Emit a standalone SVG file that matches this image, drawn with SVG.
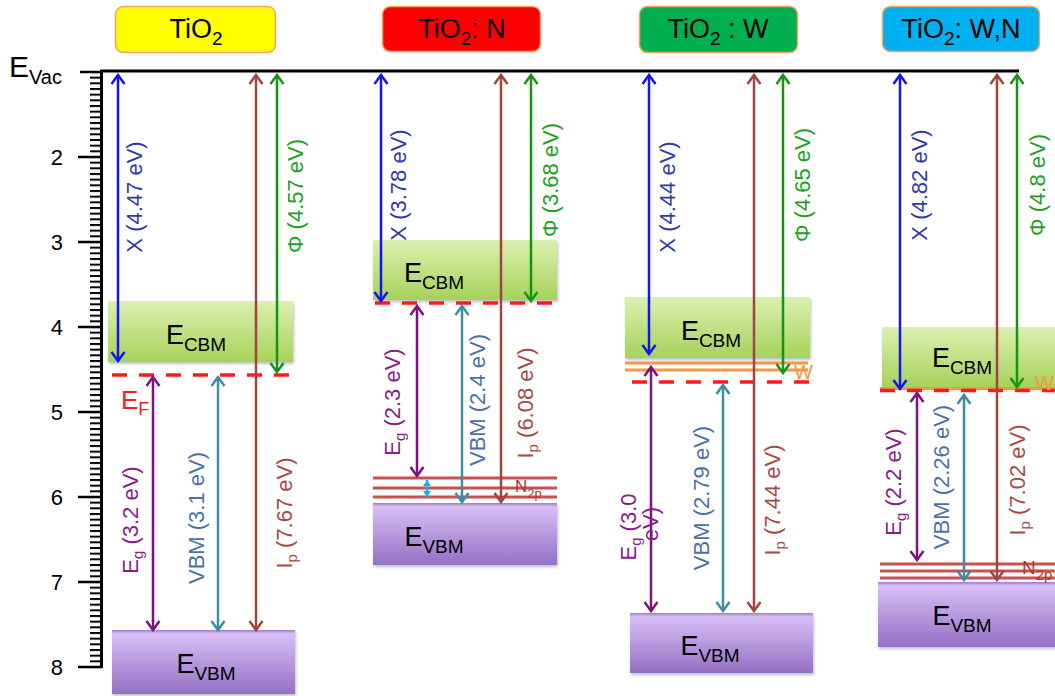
<svg xmlns="http://www.w3.org/2000/svg" width="1055" height="696" viewBox="0 0 1055 696">
<style>
text{font-family:"Liberation Sans",Arial,sans-serif}
.hd{font-size:27px;fill:#000;text-anchor:middle}
.hbox{stroke:#f2a45c;stroke-width:1.5}
.bx{font-size:27px;fill:#000;text-anchor:middle}
.lb{font-size:22px;text-anchor:middle}
.ax{font-size:22px;fill:#000;text-anchor:end}
.ef{stroke:#ff1a1a;stroke-width:3.5;stroke-dasharray:15 12;fill:none}
.wl{stroke:#f79646;stroke-width:3;fill:none}
.nl{stroke:#c9504e;stroke-width:3;fill:none}
.ab{stroke:#1414f0;stroke-width:2.5;fill:none;marker-start:url(#mb);marker-end:url(#mb)}
.ag{stroke:#169416;stroke-width:2.5;fill:none;marker-start:url(#mg);marker-end:url(#mg)}
.ar{stroke:#a2443f;stroke-width:2.5;fill:none;marker-start:url(#mr);marker-end:url(#mr)}
.ap{stroke:#7f117f;stroke-width:2.5;fill:none;marker-start:url(#mp);marker-end:url(#mp)}
.at{stroke:#3b8ea5;stroke-width:2.5;fill:none;marker-start:url(#mt);marker-end:url(#mt)}
.ac{stroke:#1ab0f0;stroke-width:2.5;fill:none;marker-start:url(#mc);marker-end:url(#mc)}
.cX{fill:#2f3aa8}.cF{fill:#22a022}.cG{fill:#8b1a8b}.cV{fill:#4a72a8}.cI{fill:#a84a44}
</style>
<defs>
<linearGradient id="gc" x1="0" y1="0" x2="0" y2="1"><stop offset="0" stop-color="#dcf0b0"/><stop offset="1" stop-color="#a6d25a"/></linearGradient>
<linearGradient id="gv" x1="0" y1="0" x2="0" y2="1"><stop offset="0" stop-color="#9f7cc8"/><stop offset="0.06" stop-color="#d8bef6"/><stop offset="1" stop-color="#9470c4"/></linearGradient>
<filter id="sh" x="-5%" y="-10%" width="112%" height="130%"><feDropShadow dx="1" dy="2" stdDeviation="1.5" flood-color="#000" flood-opacity="0.25"/></filter>
<pattern id="tk" patternUnits="userSpaceOnUse" x="90" y="71" width="12" height="5.6667"><rect x="0" y="0" width="12" height="2" fill="#000"/></pattern>
<marker id="mb" viewBox="-12 -8 14 16" refX="0" refY="0" markerWidth="14" markerHeight="16" markerUnits="userSpaceOnUse" orient="auto-start-reverse"><path d="M-9,-6.5 L0,0 L-9,6.5" fill="none" stroke="#1414f0" stroke-width="2.5"/></marker>
<marker id="mg" viewBox="-12 -8 14 16" refX="0" refY="0" markerWidth="14" markerHeight="16" markerUnits="userSpaceOnUse" orient="auto-start-reverse"><path d="M-9,-6.5 L0,0 L-9,6.5" fill="none" stroke="#169416" stroke-width="2.5"/></marker>
<marker id="mr" viewBox="-12 -8 14 16" refX="0" refY="0" markerWidth="14" markerHeight="16" markerUnits="userSpaceOnUse" orient="auto-start-reverse"><path d="M-9,-6.5 L0,0 L-9,6.5" fill="none" stroke="#a2443f" stroke-width="2.5"/></marker>
<marker id="mp" viewBox="-12 -8 14 16" refX="0" refY="0" markerWidth="14" markerHeight="16" markerUnits="userSpaceOnUse" orient="auto-start-reverse"><path d="M-9,-6.5 L0,0 L-9,6.5" fill="none" stroke="#7f117f" stroke-width="2.5"/></marker>
<marker id="mt" viewBox="-12 -8 14 16" refX="0" refY="0" markerWidth="14" markerHeight="16" markerUnits="userSpaceOnUse" orient="auto-start-reverse"><path d="M-9,-6.5 L0,0 L-9,6.5" fill="none" stroke="#3b8ea5" stroke-width="2.5"/></marker>
<marker id="mc" viewBox="-8 -5 9 10" refX="0" refY="0" markerWidth="9" markerHeight="10" markerUnits="userSpaceOnUse" orient="auto-start-reverse"><path d="M-6,-4 L0,0 L-6,4 Z" fill="#1ab0f0"/></marker>
</defs>
<rect width="1055" height="696" fill="#fff"/>

<g id="axis">
<text x="9" y="77" font-size="30" fill="#000">E<tspan dy="7" font-size="20">Vac</tspan></text>
<rect x="90" y="71" width="12" height="598" fill="url(#tk)"/>
<path d="M101.5 70.5 V668 M100 71 H1019" stroke="#000" stroke-width="3" fill="none"/>
<path d="M80 72 H102 M78 157 H102 M78 242 H102 M78 327 H102 M78 412 H102 M78 497 H102 M78 582 H102 M78 667 H102" stroke="#000" stroke-width="2.5"/>
<text class="ax" x="63" y="165">2</text>
<text class="ax" x="63" y="250">3</text>
<text class="ax" x="63" y="335">4</text>
<text class="ax" x="63" y="420">5</text>
<text class="ax" x="63" y="505">6</text>
<text class="ax" x="63" y="590">7</text>
<text class="ax" x="63" y="675">8</text>
</g>

<g id="hdr-tio2">
<rect class="hbox" x="115.5" y="6.5" width="160" height="46" rx="8" fill="#ffff00"/>
<text class="hd" x="196" y="38">TiO<tspan dy="7" font-size="19">2</tspan></text>
</g>
<g id="hdr-tio2n">
<rect class="hbox" x="382.5" y="6.5" width="158" height="45" rx="8" fill="#ff0000"/>
<text class="hd" x="462" y="38">TiO<tspan dy="7" font-size="19">2</tspan><tspan dy="-7">: N</tspan></text>
</g>
<g id="hdr-tio2w">
<rect class="hbox" x="639.5" y="6.5" width="158" height="46" rx="8" fill="#00b050"/>
<text class="hd" x="718" y="38">TiO<tspan dy="7" font-size="19">2</tspan><tspan dy="-7"> : W</tspan></text>
</g>
<g id="hdr-tio2wn">
<rect class="hbox" x="882.5" y="6.5" width="157" height="45" rx="8" fill="#00b0f0"/>
<text class="hd" x="961" y="38">TiO<tspan dy="7" font-size="19">2</tspan><tspan dy="-7">: W,N</tspan></text>
</g>

<g id="col1-cbm">
<rect x="108" y="301" width="185" height="61" fill="url(#gc)" filter="url(#sh)"/>
<text class="bx" x="196" y="344">E<tspan dy="7" font-size="19">CBM</tspan></text>
</g>
<g id="col1-vbm">
<rect x="112" y="630" width="183" height="64" fill="url(#gv)" filter="url(#sh)"/>
<text class="bx" x="206" y="673">E<tspan dy="7" font-size="19">VBM</tspan></text>
</g>
<g id="col2-cbm">
<rect x="373" y="240" width="184" height="60" fill="url(#gc)" filter="url(#sh)"/>
<text class="bx" x="434" y="282">E<tspan dy="7" font-size="19">CBM</tspan></text>
</g>
<g id="col2-vbm">
<rect x="373" y="503" width="184" height="62" fill="url(#gv)" filter="url(#sh)"/>
<text class="bx" x="434" y="546">E<tspan dy="7" font-size="19">VBM</tspan></text>
</g>
<g id="col3-cbm">
<rect x="625" y="297" width="185" height="61" fill="url(#gc)" filter="url(#sh)"/>
<text class="bx" x="711" y="340">E<tspan dy="7" font-size="19">CBM</tspan></text>
</g>
<g id="col3-vbm">
<rect x="630" y="613" width="183" height="60" fill="url(#gv)" filter="url(#sh)"/>
<text class="bx" x="710" y="655">E<tspan dy="7" font-size="19">VBM</tspan></text>
</g>
<g id="col4-cbm">
<rect x="882" y="327" width="185" height="60" fill="url(#gc)" filter="url(#sh)"/>
<text class="bx" x="962" y="367">E<tspan dy="7" font-size="19">CBM</tspan></text>
</g>
<g id="col4-vbm">
<rect x="878" y="582" width="185" height="65" fill="url(#gv)" filter="url(#sh)"/>
<text class="bx" x="962" y="625">E<tspan dy="7" font-size="19">VBM</tspan></text>
</g>

<g id="levels">
<path class="wl" d="M625 363 H808 M625 370 H808"/>
<path class="wl" d="M880 388.5 H1055"/>
<path class="nl" d="M373 478 H557 M373 488 H557 M373 497 H557"/>
<path class="nl" d="M880 564 H1055 M880 571 H1055 M880 578 H1055"/>
<path class="ef" d="M112 375 H292"/>
<path class="ef" d="M375 303 H557"/>
<path class="ef" d="M632 382 H810"/>
<path class="ef" d="M880 390.5 H1055"/>
<text x="121" y="409" font-size="26" fill="#ff1a1a">E<tspan dy="6" font-size="18">F</tspan></text>
<text x="794" y="379" font-size="20" fill="#f79646">W</text>
<text x="1035" y="390" font-size="20" fill="#f79646">W</text>
<text x="515" y="492" font-size="17" fill="#c0302e">N<tspan dy="6" font-size="13">2p</tspan></text>
<text x="1022" y="574" font-size="19" fill="#c0302e">N<tspan dy="6" font-size="15">2p</tspan></text>
</g>

<g id="connectors">
<path class="ab" d="M118 75 V361"/>
<path class="ag" d="M277 75 V372"/>
<path class="ar" d="M256 75 V630"/>
<path class="ap" d="M153 377 V630"/>
<path class="at" d="M218 377 V630"/>

<path class="ab" d="M381 75 V301"/>
<path class="ag" d="M531 75 V301"/>
<path class="ar" d="M501 75 V502"/>
<path class="ap" d="M417 306 V476"/>
<path class="at" d="M462 306 V502"/>
<path class="ac" d="M427 480 V497"/>

<path class="ab" d="M649 75 V354"/>
<path class="ag" d="M783 75 V373"/>
<path class="ar" d="M754 75 V611"/>
<path class="ap" d="M651 367 V611"/>
<path class="at" d="M723 385 V611"/>

<path class="ab" d="M900 75 V389"/>
<path class="ag" d="M1017 75 V387"/>
<path class="ar" d="M997 75 V580"/>
<path class="ap" d="M917 393 V560"/>
<path class="at" d="M964 395 V580"/>
</g>

<g id="labels">
<text class="lb cX" transform="translate(135,197) rotate(-90)" y="7">X (4.47 eV)</text>
<text class="lb cF" transform="translate(296,196) rotate(-90)" y="7">Φ (4.57 eV)</text>
<text class="lb cG" transform="translate(131,520) rotate(-90)" y="7">E<tspan dy="5" font-size="15">g</tspan><tspan dy="-5"> (3.2 eV)</tspan></text>
<text class="lb cV" transform="translate(197,518) rotate(-90)" y="7">VBM (3.1 eV)</text>
<text class="lb cI" transform="translate(285,513) rotate(-90)" y="7">I<tspan dy="5" font-size="15">p</tspan><tspan dy="-5"> (7.67 eV)</tspan></text>

<text class="lb cX" transform="translate(399,185) rotate(-90)" y="7">X (3.78 eV)</text>
<text class="lb cF" transform="translate(551,180) rotate(-90)" y="7">Φ (3.68 eV)</text>
<text class="lb cG" transform="translate(393,402) rotate(-90)" y="7">E<tspan dy="5" font-size="15">g</tspan><tspan dy="-5"> (2.3 eV)</tspan></text>
<text class="lb cV" transform="translate(478,400) rotate(-90)" y="7">VBM (2.4 eV)</text>
<text class="lb cI" transform="translate(526,403) rotate(-90)" y="7">I<tspan dy="5" font-size="15">p</tspan><tspan dy="-5"> (6.08 eV)</tspan></text>

<text class="lb cX" transform="translate(668,197) rotate(-90)" y="7">X (4.44 eV)</text>
<text class="lb cF" transform="translate(803,185) rotate(-90)" y="7">Φ (4.65 eV)</text>
<text class="lb cG" transform="translate(629,527) rotate(-90)" y="7">E<tspan dy="5" font-size="15">g</tspan><tspan dy="-5"> (3.0</tspan></text>
<text class="lb cG" transform="translate(651,524) rotate(-90)" y="7">eV)</text>
<text class="lb cV" transform="translate(702,498) rotate(-90)" y="7">VBM (2.79 eV)</text>
<text class="lb cI" transform="translate(773,500) rotate(-90)" y="7">I<tspan dy="5" font-size="15">p</tspan><tspan dy="-5"> (7.44 eV)</tspan></text>

<text class="lb cX" transform="translate(920,185) rotate(-90)" y="7">X (4.82 eV)</text>
<text class="lb cF" transform="translate(1038,185) rotate(-90)" y="7">Φ (4.8 eV)</text>
<text class="lb cG" transform="translate(894,482) rotate(-90)" y="7">E<tspan dy="5" font-size="15">g</tspan><tspan dy="-5"> (2.2 eV)</tspan></text>
<text class="lb cV" transform="translate(942,477) rotate(-90)" y="7">VBM (2.26 eV)</text>
<text class="lb cI" transform="translate(1018,480) rotate(-90)" y="7">I<tspan dy="5" font-size="15">p</tspan><tspan dy="-5"> (7.02 eV)</tspan></text>
</g>
</svg>
